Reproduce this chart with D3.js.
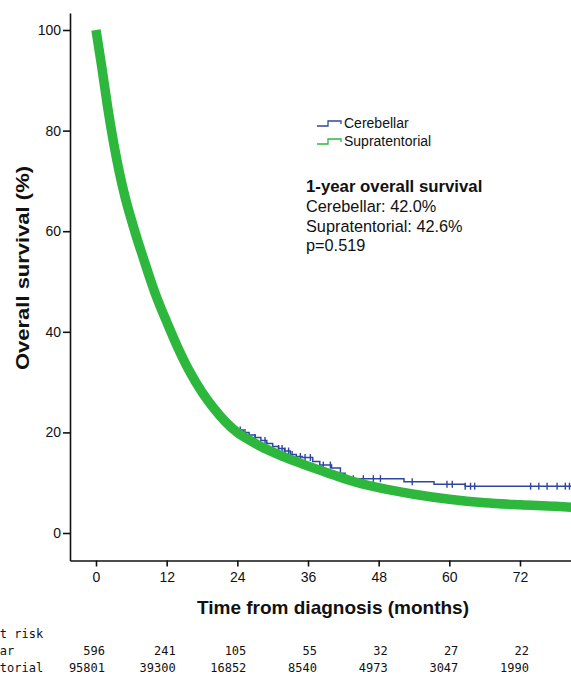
<!DOCTYPE html>
<html><head><meta charset="utf-8">
<script src="https://cdn.jsdelivr.net/npm/d3@7"></script>
<style>html,body{margin:0;padding:0;background:#fff;overflow:hidden}svg{display:block}</style>
</head><body>
<script>
// ---- data ----
const xTicks = [0, 12, 24, 36, 48, 60, 72];
const yTicks = [0, 20, 40, 60, 80, 100];
const seriesNames = ["Cerebellar", "Supratentorial"];

const supraTimes = [0, 1, 2, 3, 4, 5, 6, 7, 8, 9, 10, 11, 12, 14, 16, 18, 20, 22, 24, 26, 28, 31, 34, 37, 40, 43, 48, 54, 60, 66, 72, 78, 81];
const supraSurv  = [100, 92.5, 84.5, 77.5, 71.5, 66.5, 62.3, 58.4, 54.8, 51.2, 47.8, 44.8, 42, 36.6, 31.9, 28, 24.8, 22.1, 20, 18.5, 17.2, 15.6, 14.2, 12.9, 11.7, 10.5, 9.0, 7.7, 6.7, 6.0, 5.6, 5.3, 5.1];

const cerebTimes = [0, 0.5, 1, 1.5, 2, 2.5, 3, 3.5, 4, 4.5, 5, 5.5, 6, 7, 8, 9, 10, 11, 12, 13, 14, 15, 16, 17, 18, 19, 20, 21, 22, 23, 24, 25, 26, 27, 28, 29, 30, 31, 32, 33, 34, 35, 36.8, 38, 40, 41.5, 42.3, 52.3, 57.4, 62.7, 81];
const cerebSurv  = [98.5, 94.4, 90.5, 86.5, 82.7, 79.2, 76, 73, 70.2, 67.7, 65.4, 63.3, 60.3, 56.6, 53, 49.5, 46.3, 43.4, 40.6, 37.9, 35.4, 33.1, 30.9, 28.9, 27.2, 25.6, 24.1, 22.8, 21.6, 20.8, 20.5, 20.0, 19.5, 19.0, 18.4, 17.8, 17.2, 16.8, 16.3, 15.6, 15.2, 15.0, 14.2, 13.5, 12.9, 11.9, 10.8, 10.2, 9.7, 9.3, 9.3];
const cerebCensor = [2.4, 9.6, 10.2, 24.5, 25.3, 27.0, 28.7, 31.0, 31.6, 32.1, 32.7, 33.3, 34.7, 35.5, 36.4, 38.6, 39.8, 42.3, 43.7, 45.4, 47.1, 48.3, 53.7, 59.6, 60.5, 62.7, 63.6, 64.3, 73.8, 75.2, 76.6, 78.3, 79.7, 80.4];

const riskCerebellar = [596, 241, 105, 55, 32, 27, 22];
const riskSupra = [95801, 39300, 16852, 8540, 4973, 3047, 1990];
const riskLabels = ["Number at risk", "Cerebellar", "Supratentorial"];

const annotTitle = "1-year overall survival";
const annotLines = ["Cerebellar: 42.0%", "Supratentorial: 42.6%", "p=0.519"];

// ---- layout ----
const W = 571, H = 676;
const blue = "#2f45a5", green = "#2db83d";
const sans = "Arial, 'Liberation Sans', sans-serif";
const svg = d3.select("body").append("svg").attr("width", W).attr("height", H);

const x = d3.scaleLinear().domain([0, 72]).range([96, 520]);
x.domain([x.invert(70), x.invert(571)]).range([70, 571]);
const y = d3.scaleLinear().domain([0, 100]).range([533, 30]);
y.domain([y.invert(560.5), y.invert(13)]).range([560.5, 13]);

// axes
const yAxis = d3.axisLeft(y).tickValues(yTicks).tickSize(7).tickSizeOuter(0).tickPadding(2);
const gy = svg.append("g").attr("transform", "translate(70,0)").call(yAxis);
const xAxis = d3.axisBottom(x).tickValues(xTicks).tickSize(6).tickSizeOuter(0).tickPadding(6);
const gx = svg.append("g").attr("transform", "translate(0,560.5)").call(xAxis);
[gx, gy].forEach(g => {
  g.selectAll("path.domain").attr("stroke", "#111").attr("stroke-width", 1.6);
  g.selectAll(".tick line").attr("stroke", "#111").attr("stroke-width", 1.6);
  g.selectAll(".tick text").attr("font-family", sans).attr("font-size", 14).attr("fill", "#111");
});

// axis titles
svg.append("text").attr("x", 333).attr("y", 614).attr("text-anchor", "middle")
  .attr("font-family", sans).attr("font-weight", "bold").attr("font-size", 19).attr("fill", "#111")
  .text("Time from diagnosis (months)");
svg.append("text").attr("transform", "translate(29,268) rotate(-90)").attr("text-anchor", "middle")
  .attr("font-family", sans).attr("font-weight", "bold").attr("font-size", 18).attr("fill", "#111")
  .attr("textLength", 204).attr("lengthAdjust", "spacingAndGlyphs")
  .text("Overall survival (%)");

// curves
const cereb = [[0, 100]].concat(cerebTimes.map((t, i) => [t, cerebSurv[i]]));
const supra = supraTimes.map((t, i) => [t, supraSurv[i]]);
const stepLine = d3.line().x(d => x(d[0])).y(d => y(d[1])).curve(d3.curveStepAfter);
const smoothLine = d3.line().x(d => x(d[0])).y(d => y(d[1])).curve(d3.curveMonotoneX);

svg.append("path").datum(cereb).attr("d", stepLine).attr("fill", "none").attr("stroke", blue).attr("stroke-width", 1.5);
const survAt = t => { const i = d3.bisectRight(cerebTimes, t) - 1; return cerebSurv[Math.max(0, i)]; };
svg.append("g").selectAll("line").data(cerebCensor).join("line")
  .attr("x1", d => x(d)).attr("x2", d => x(d))
  .attr("y1", d => y(survAt(d)) - 3.5).attr("y2", d => y(survAt(d)) + 3.5)
  .attr("stroke", blue).attr("stroke-width", 1.4);

svg.append("path").datum(supra).attr("d", smoothLine).attr("fill", "none").attr("stroke", green).attr("stroke-width", 9.5).attr("stroke-linecap", "butt");

// legend
const legend = [{name: seriesNames[0], c: blue, yy: 127}, {name: seriesNames[1], c: green, yy: 145}];
legend.forEach(l => {
  svg.append("path").attr("d", `M317,${l.yy - 1} H328 V${l.yy - 6} H341 V${l.yy - 3}`)
    .attr("fill", "none").attr("stroke", l.c).attr("stroke-width", 1.3);
  svg.append("text").attr("x", 344).attr("y", l.yy + 1).attr("font-family", sans)
    .attr("font-size", 14).attr("fill", "#111").text(l.name);
});

// annotation
svg.append("text").attr("x", 306).attr("y", 192).attr("font-family", sans)
  .attr("font-weight", "bold").attr("font-size", 16.8).attr("fill", "#111").text(annotTitle);
annotLines.forEach((s, i) => {
  svg.append("text").attr("x", 306).attr("y", 212 + i * 19.5).attr("font-family", sans)
    .attr("font-size", 16.3).attr("fill", "#111").text(s);
});

// risk table
const mono = "'DejaVu Sans Mono', 'Liberation Mono', monospace";
const rowY = [638, 655, 672];
riskLabels.forEach((s, i) => {
  svg.append("text").attr("x", -58).attr("y", rowY[i]).attr("font-family", mono).attr("font-size", 12).attr("fill", "#111").text(s);
});
[riskCerebellar, riskSupra].forEach((row, r) => {
  svg.append("g").selectAll("text").data(row).join("text")
    .attr("x", (d, i) => x(xTicks[i]) + 9).attr("y", rowY[r + 1]).attr("text-anchor", "end")
    .attr("font-family", mono).attr("font-size", 12).attr("fill", "#111").text(d => d);
});
</script>
</body></html>
